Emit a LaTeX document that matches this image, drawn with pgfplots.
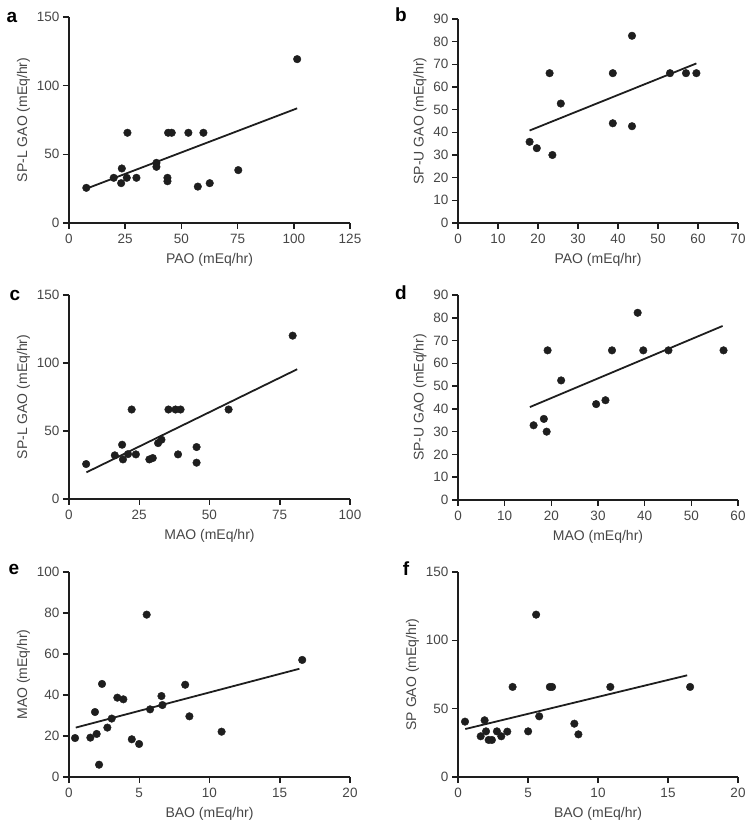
\documentclass[border=0pt]{standalone}
\usepackage{fontspec}
\setmainfont{Liberation Sans}
\usepackage{pgfplots}
\pgfplotsset{compat=1.18}
\definecolor{txt}{RGB}{70,70,70}
\definecolor{ink}{RGB}{30,30,30}

\pgfplotsset{
  panel/.style={
    scale only axis, anchor=south west,
    axis lines=left, axis line style={-, line width=1.8pt, ink},
    tick style={line width=1.5pt, ink}, tick align=outside,
    major tick length=6pt,
    every tick label/.append style={font=\fontsize{13.5}{15}\selectfont, text=txt},
    xticklabel style={yshift=-2pt},
    label style={font=\fontsize{14}{16}\selectfont, text=txt},
    xlabel style={yshift=-2pt},
    /pgf/number format/assume math mode=true,
    scaled ticks=false, enlargelimits=false, clip=false,
  },
  dots/.style={only marks, mark=*, mark size=3.8pt, ink},
  fit/.style={no marks, line width=1.8pt, ink},
}

\begin{document}
\begin{tikzpicture}
\useasboundingbox (0,0) rectangle (750pt,830pt);

% a
\begin{axis}[panel, at={(69pt,607pt)}, width=281pt, height=206pt,
  xmin=0, xmax=125, ymin=0, ymax=150, xtick={0,25,...,125}, ytick={0,50,100,150},
  xlabel={PAO (mEq/hr)}, ylabel={SP-L GAO (mEq/hr)}]
\addplot[dots] coordinates {
(7.7,25.6) (19.9,32.9) (23.5,39.7) (23.2,29.0) (25.7,32.9) (26.0,65.7)
(30.0,32.9) (38.9,43.8) (38.9,40.9) (43.8,32.9) (43.8,30.4) (44.1,65.7)
(45.7,65.7) (53.1,65.7) (57.3,26.5) (59.8,65.7) (62.6,29.0) (75.3,38.5)
(101.5,119.3)};
\addplot[fit] coordinates {(7.4,24.8) (101.5,83.5)};
\end{axis}

% b
\begin{axis}[panel, at={(458pt,607pt)}, width=280pt, height=204pt,
  xmin=0, xmax=70, ymin=0, ymax=90, xtick={0,10,...,70}, ytick={0,10,...,90},
  xlabel={PAO (mEq/hr)}, ylabel={SP-U GAO (mEq/hr)}]
\addplot[dots] coordinates {
(17.9,35.8) (19.7,33.0) (23.6,30.0) (22.9,66.1) (25.7,52.7) (38.7,66.1)
(38.7,44.0) (43.5,82.6) (43.5,42.7) (53.0,66.1) (57.0,66.1) (59.6,66.1)};
\addplot[fit] coordinates {(17.9,40.8) (59.6,70.4)};
\end{axis}

% c
\begin{axis}[panel, at={(69pt,331pt)}, width=281pt, height=204pt,
  xmin=0, xmax=100, ymin=0, ymax=150, xtick={0,25,...,100}, ytick={0,50,100,150},
  xlabel={MAO (mEq/hr)}, ylabel={SP-L GAO (mEq/hr)}]
\addplot[dots] coordinates {
(6.1,25.7) (16.3,32.1) (18.9,39.9) (19.2,29.1) (21.0,33.0) (22.3,65.8)
(23.8,32.8) (28.6,29.1) (29.8,30.1) (31.7,41.1) (32.9,43.6) (35.4,65.8)
(37.9,65.8) (39.7,65.8) (38.8,32.8) (45.4,38.2) (45.4,26.7) (56.8,65.8)
(79.6,120.1)};
\addplot[fit] coordinates {(6.2,19.6) (81.2,95.4)};
\end{axis}

% d
\begin{axis}[panel, at={(458pt,330pt)}, width=280pt, height=205pt,
  xmin=0, xmax=60, ymin=0, ymax=90, xtick={0,10,...,60}, ytick={0,10,...,90},
  xlabel={MAO (mEq/hr)}, ylabel={SP-U GAO (mEq/hr)}]
\addplot[dots] coordinates {
(16.2,32.8) (18.4,35.6) (19.0,30.0) (19.2,65.7) (22.1,52.5) (29.6,42.1)
(31.6,43.8) (33.0,65.7) (38.5,82.2) (39.7,65.7) (45.1,65.7) (56.9,65.7)};
\addplot[fit] coordinates {(15.4,40.8) (56.7,76.4)};
\end{axis}

% e
\begin{axis}[panel, at={(69pt,53pt)}, width=281pt, height=205pt,
  xmin=0, xmax=20, ymin=0, ymax=100, xtick={0,5,...,20}, ytick={0,20,...,100},
  xlabel={BAO (mEq/hr)}, ylabel={MAO (mEq/hr)}]
\addplot[dots] coordinates {
(0.43,19.0) (1.52,19.2) (1.85,31.7) (1.97,21.0) (2.14,6.0) (2.35,45.4)
(2.73,24.1) (3.04,28.5) (3.44,38.7) (3.87,37.9) (4.47,18.4) (4.99,16.1)
(5.53,79.2) (5.77,33.0) (6.58,39.5) (6.65,35.1) (8.27,45.0) (8.57,29.6)
(10.86,22.1) (16.6,57.1)};
\addplot[fit] coordinates {(0.48,24.1) (16.4,52.8)};
\end{axis}

% f
\begin{axis}[panel, at={(458pt,53pt)}, width=280pt, height=205pt,
  xmin=0, xmax=20, ymin=0, ymax=150, xtick={0,5,...,20}, ytick={0,50,100,150},
  xlabel={BAO (mEq/hr)}, ylabel={SP GAO (mEq/hr)}]
\addplot[dots] coordinates {
(0.50,40.5) (1.62,29.8) (1.90,41.5) (2.00,33.4) (2.19,27.1) (2.42,27.1)
(2.78,33.4) (3.09,29.8) (3.52,33.2) (3.90,65.9) (5.01,33.4) (5.58,118.8)
(5.80,44.4) (6.56,65.9) (6.72,65.9) (8.31,39.0) (8.60,31.2) (10.88,65.9)
(16.58,65.9)};
\addplot[fit] coordinates {(0.52,35.1) (16.37,74.4)};
\end{axis}

\begin{scope}[every node/.style={font=\bfseries\fontsize{19}{19}\selectfont, text=black}]
\node at (12pt,813pt) {a};
\node at (401pt,815pt) {b};
\node at (15pt,535pt) {c};
\node at (401pt,537pt) {d};
\node at (14pt,261pt) {e};
\node at (406pt,261pt) {f};
\end{scope}
\end{tikzpicture}
\end{document}
